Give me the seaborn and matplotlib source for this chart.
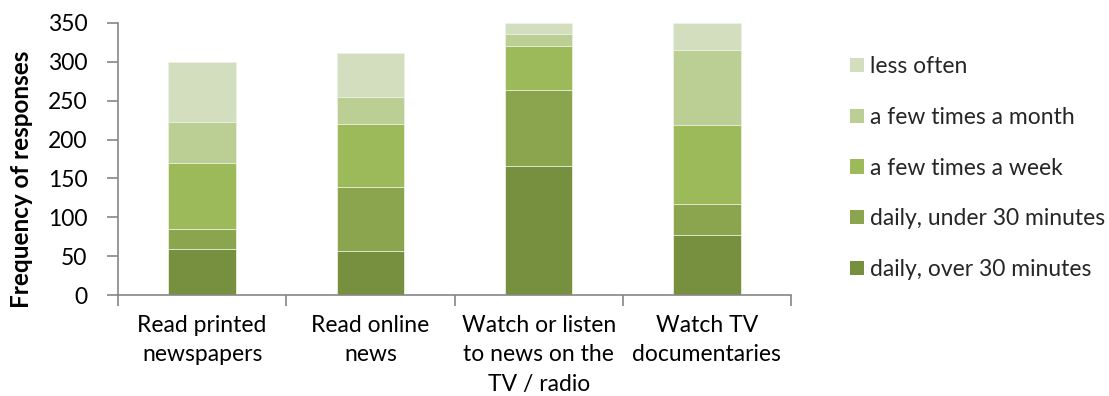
import numpy as np
import pandas as pd
import matplotlib
matplotlib.use("Agg")
import matplotlib.pyplot as plt
import seaborn as sns
from matplotlib.patches import Patch

categories = ["Read printed\nnewspapers", "Read online\nnews",
              "Watch or listen\nto news on the\nTV / radio", "Watch TV\ndocumentaries"]
series = ["daily, over 30 minutes", "daily, under 30 minutes",
          "a few times a week", "a few times a month", "less often"]
daily_over = [60, 57, 166, 78]
daily_under = [25, 82, 98, 39]
few_week = [85, 81, 56, 102]
few_month = [52, 34, 16, 96]
less_often = [77, 57, 14, 34]
colors = ["#77903F", "#8BA54E", "#9CBA59", "#BBCF94", "#D2DEBE"]

values = [daily_over, daily_under, few_week, few_month, less_often]

sns.set_theme(style="white")
plt.rcParams["font.family"] = ["Lato", "DejaVu Sans"]
FS = 16.5

fig = plt.figure(figsize=(11.09, 3.96), dpi=100)
ax = fig.add_axes([118 / 1109, 1 - 295.3 / 396, (791 - 118) / 1109, (295.3 - 22.7) / 396])

cum = np.cumsum(np.array(values), axis=0)
# draw cumulative totals from the top layer down so each segment shows
for i in range(len(series) - 1, -1, -1):
    df = pd.DataFrame({"cat": categories, "val": cum[i]})
    sns.barplot(data=df, x="cat", y="val", color=colors[i], width=0.4,
                saturation=1, edgecolor="#EEF2E4", linewidth=0.6, ax=ax)

ax.set_xlim(-0.5, len(categories) - 0.5)
ax.set_ylim(0, 350)
ax.set_yticks(np.arange(0, 351, 50))
ax.set_xlabel("")
ax.set_ylabel("")

# boundary ticks for categories, labels at centers
ax.set_xticks(np.arange(-0.5, len(categories)), minor=False)
ax.set_xticklabels([""] * (len(categories) + 1))
ax.set_xticks(np.arange(len(categories)), minor=True)
ax.set_xticklabels(categories, minor=True, fontsize=FS, linespacing=1.5, color="#000000")
ax.tick_params(axis="x", which="major", length=8, width=1.2, color="#868686", direction="out", bottom=True)
ax.tick_params(axis="x", which="minor", length=0, pad=14)
ax.tick_params(axis="y", length=8, width=1.2, color="#868686", direction="out", left=True,
               labelsize=FS, pad=14, labelcolor="#000000")

for side in ["top", "right"]:
    ax.spines[side].set_visible(False)
for side in ["left", "bottom"]:
    ax.spines[side].set_color("#868686")
    ax.spines[side].set_linewidth(1.2)

fig.text(22 / 1109, 1 - 179 / 396, "Frequency of responses", rotation=90,
         ha="center", va="center", fontsize=17.5, fontweight="bold", color="#000000")

handles = [Patch(facecolor=colors[i], edgecolor="none", label=series[i])
           for i in range(len(series) - 1, -1, -1)]
fig.legend(handles=handles, loc="upper left", bbox_to_anchor=(850 / 1109, 1 - 56 / 396),
           frameon=False, fontsize=FS, handlelength=0.59, handleheight=0.59,
           handletextpad=0.28, labelspacing=1.3, borderaxespad=0, borderpad=0)

fig.savefig("out.png", dpi=100)
